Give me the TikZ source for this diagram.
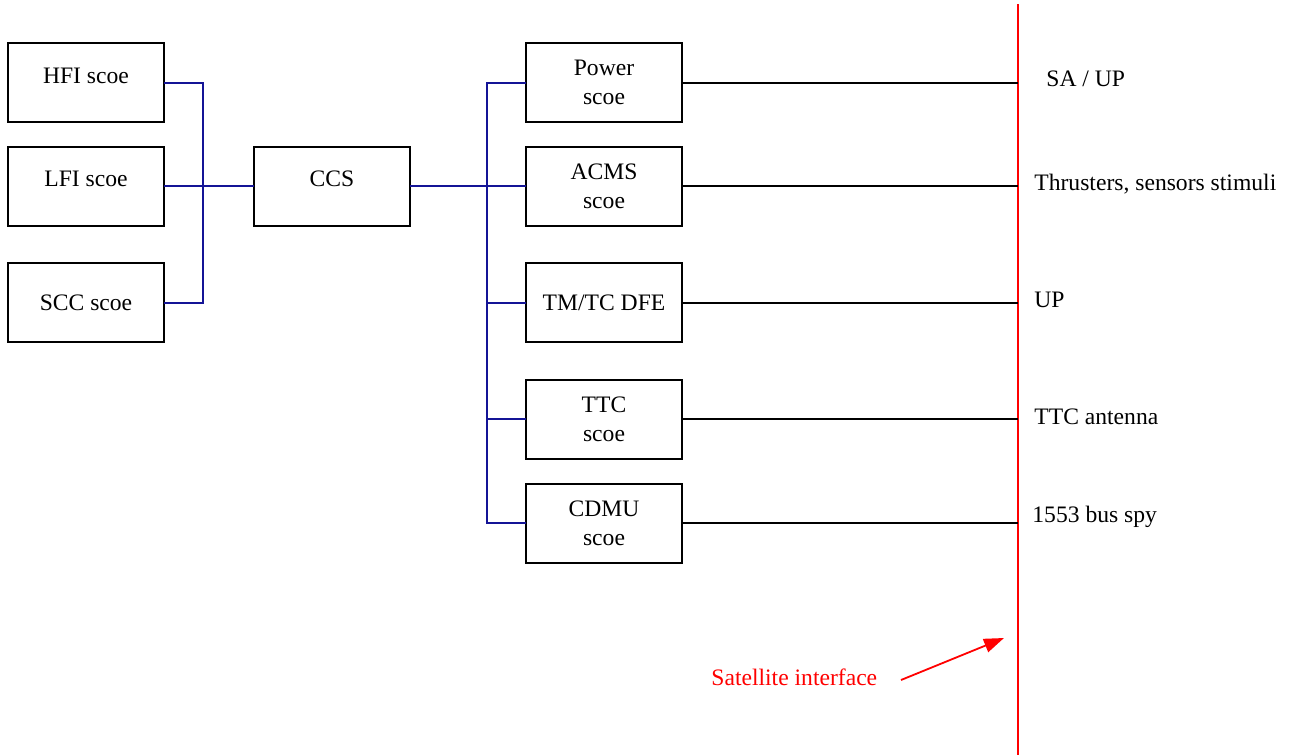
\documentclass[tikz,border=0pt]{standalone}
\usepackage{fontspec}
\setmainfont{Liberation Serif}
\usetikzlibrary{arrows.meta}
\definecolor{busblue}{RGB}{20,20,150}
\tikzset{
  unit/.style={draw, line width=1pt, minimum width=78pt, minimum height=39.5pt,
    inner sep=2pt, outer sep=0pt, align=center, font=\fontsize{11.8}{14.5}\selectfont},
  lift/.style={text height=8pt, text depth=7.5pt},
  bus/.style={busblue, line width=1pt},
  link/.style={black, line width=1pt},
  iflabel/.style={anchor=west, inner sep=0pt, font=\fontsize{11.8}{14.5}\selectfont}
}
\begin{document}
\begin{tikzpicture}[x=0.5pt, y=-0.5pt]
\useasboundingbox (0,0) rectangle (1289,755);
% Instrument side
\node[unit, lift] (hfi) at (86,82.5) {HFI scoe};
\node[unit, lift] (lfi) at (86,186) {LFI scoe};
\node[unit] (scc) at (86,302.5) {SCC scoe};
\node[unit, lift] (ccs) at (332,186) {CCS};
% Platform scoes
\node[unit] (power) at (604,82.5) {Power\\scoe};
\node[unit] (acms) at (604,186) {ACMS\\scoe};
\node[unit] (tmtc) at (604,302.5) {TM/TC DFE};
\node[unit] (ttc) at (604,419) {TTC\\scoe};
\node[unit] (cdmu) at (604,523) {CDMU\\scoe};
% Buses
\coordinate (lbus) at (203,0);
\coordinate (rbus) at (487,0);
\draw[bus] (hfi.east) -| (lbus |- scc.east) -- (scc.east);
\draw[bus] (lfi.east) -- (ccs.west);
\draw[bus] (ccs.east) -- (acms.west);
\draw[bus] (power.west) -| (rbus |- cdmu.west) -- (cdmu.west);
\draw[bus] (tmtc.west) -- (rbus |- tmtc.west);
\draw[bus] (ttc.west) -- (rbus |- ttc.west);
% Satellite interface
\coordinate (sattop) at (1018,4);
\coordinate (satbot) at (1018,755);
\draw[red, line width=0.9pt] (sattop) -- (satbot);
\foreach \u in {power,acms,tmtc,ttc,cdmu}
  \draw[link] (\u.east) -- (sattop |- \u.east);
\node[iflabel] (saup) at (1046,79) {SA / UP};
\node[iflabel] (thr) at (1034,184) {Thrusters, sensors stimuli};
\node[iflabel] (up) at (1034,300) {UP};
\node[iflabel] (ant) at (1034,417) {TTC antenna};
\node[iflabel] (spy) at (1032,517) {1553 bus spy};
\node[iflabel, red] (satlbl) at (711,677) {Satellite interface};
\coordinate (tip) at (1004,638);
\draw[red, line width=0.9pt, -{Triangle[length=10pt,width=7pt]}] (901,680) -- (tip);
\end{tikzpicture}
\end{document}
